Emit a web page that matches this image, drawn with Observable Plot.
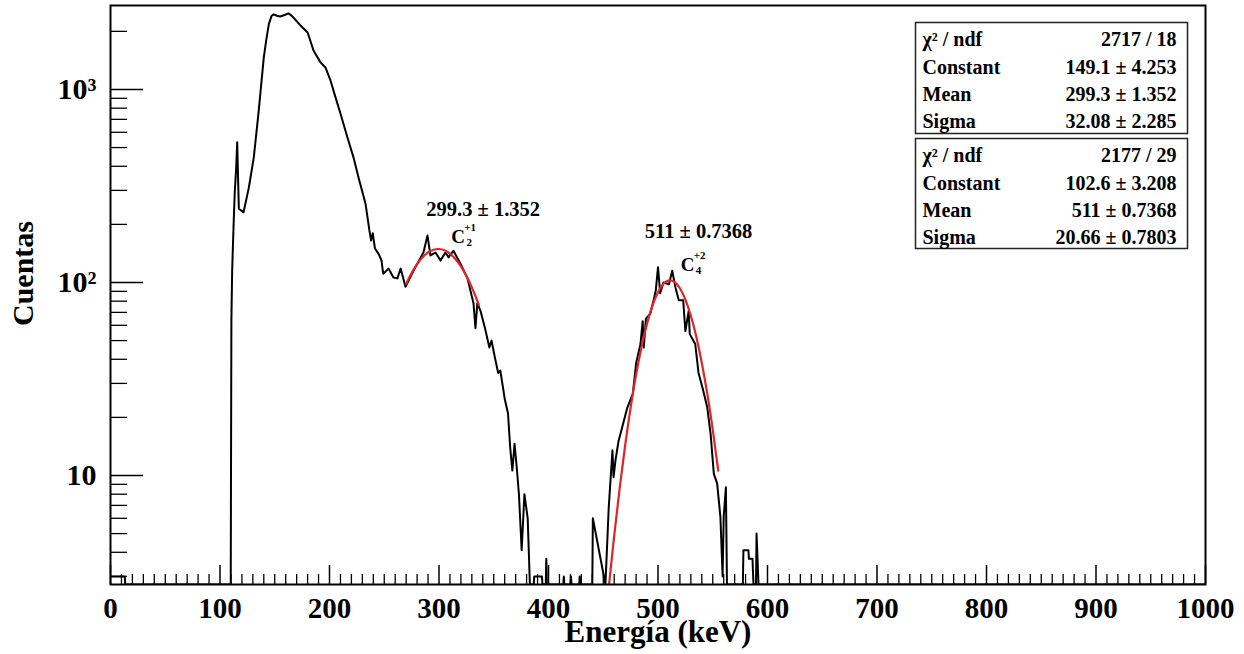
<!DOCTYPE html>
<html><head><meta charset="utf-8">
<script src="https://cdn.jsdelivr.net/npm/d3@7"></script>
<script src="https://cdn.jsdelivr.net/npm/@observablehq/plot@0.6"></script>
<style>body{margin:0;background:#fff;} #chart{width:1244px;height:654px;}</style>
</head><body><div id="chart"></div>
<script>
// ---- histogram ----
const energy = [0, 13, 13.5, 109.8, 110.4, 111.1, 112.6, 113.5, 114.8, 115.7, 117.2, 121.5, 126.3, 127.9, 130.9, 135.4, 140, 142.2, 144.6, 147, 149, 152, 155, 159, 162.6, 165, 167, 173.5, 180, 185.4, 191.8, 196.3, 200.9, 205.5, 210, 216.4, 221.9, 226.5, 232.9, 236.5, 238, 239.5, 241.5, 244.7, 247.5, 249, 254, 258.4, 262, 265, 269.4, 276.7, 285.8, 289.5, 292.2, 296.8, 301.4, 305.9, 308.7, 313.2, 319.6, 326, 331.5, 333.3, 335, 338, 342, 346, 348, 351, 354, 356, 360, 363, 365, 367, 369, 371, 373, 375.5, 378, 381, 383, 386.5, 387, 394, 394.5, 397.5, 398, 398.5, 413.5, 414, 414.5, 420, 420.5, 421, 428, 428.5, 429, 440, 440.5, 452, 455, 458.4, 459.4, 461.2, 463.9, 472, 477, 480, 484, 486, 487, 489, 493, 496, 498, 500, 502, 505, 510, 513, 516, 519, 523, 525, 528, 529, 534, 537, 541, 545, 548, 551, 554, 557, 559, 560, 562, 563, 577.5, 578, 582.6, 583, 586.3, 587.2, 589.5, 590, 591.8, 1000];
const counts = [3, 3, 0, 0, 64, 115, 214, 294, 395, 533, 241, 231, 309, 351, 446, 779, 1466, 1795, 2180, 2400, 2449, 2410, 2390, 2430, 2478, 2420, 2360, 2147, 1973, 1592, 1381, 1300, 1114, 910, 751, 564, 445, 350, 256, 185, 165, 180, 150, 141, 130, 111, 118, 106, 105, 118, 95, 115, 143, 175, 138, 143, 130, 143, 135, 146, 125, 105, 78, 58, 78, 71, 58, 46, 50, 41, 34, 35, 25, 21, 14, 10.6, 14.6, 11, 8, 4.1, 8, 6, 0, 0, 3, 3, 0, 0, 3.7, 0, 0, 3, 0, 0, 3, 0, 0, 3, 0, 0, 6, 0, 6.8, 13.5, 9.8, 12, 15, 22.5, 26.5, 38, 48, 63, 46, 65, 69, 81, 91, 120, 88, 100, 98, 115, 94, 81, 81, 56, 71, 54, 48, 34, 28, 22.5, 16.5, 10.2, 9.1, 6.1, 3, 6.1, 8.7, 0, 0, 4.1, 4.1, 3.7, 3.7, 0, 0, 5.0, 0, 0];

// ---- gaussian fit curves ----
const fit1Energy = [270, 275, 280, 285, 290, 295, 300, 305, 310, 315, 320, 325, 330, 335, 336.5];
const fit1Counts = [98.3, 111.9, 124.4, 135.0, 143.0, 147.8, 149.1, 146.8, 141.0, 132.3, 121.1, 108.2, 94.3, 80.3, 76.1];
const fit2Energy = [453, 455, 460, 465, 470, 475, 480, 485, 490, 495, 500, 505, 510, 515, 520, 525, 530, 535, 540, 545, 550, 555];
const fit2Counts = [2.0, 2.61, 4.87, 8.60, 14.3, 22.5, 33.3, 46.5, 61.2, 76.0, 89.0, 98.4, 102.5, 100.7, 93.3, 81.5, 67.2, 52.3, 38.3, 26.5, 17.3, 10.6];

// ---- stat boxes ----
const statLabels = ["χ² / ndf", "Constant", "Mean", "Sigma"];
const fit1Stats = ["2717 / 18", "149.1 ± 4.253", "299.3 ± 1.352", "32.08 ± 2.285"];
const fit2Stats = ["2177 / 29", "102.6 ± 3.208", "511 ± 0.7368", "20.66 ± 0.7803"];

// ---- peak annotations ----
const peakMeans = [299.3, 511];
const peakConstants = [149.1, 102.6];
const peakLabels = ["299.3 ± 1.352", "511 ± 0.7368"];
const peakSymbol = ["C", "C"];
const peakSubs = ["2", "4"];
const peakSups = ["+1", "+2"];

// ---- axes ----
const xTicks = [0, 100, 200, 300, 400, 500, 600, 700, 800, 900, 1000];
const xTickLabels = ["0", "100", "200", "300", "400", "500", "600", "700", "800", "900", "1000"];
const xMinorTicks = d3.range(0, 1001, 10).filter(v => v % 100 !== 0);
const yTicks = [10, 100, 1000];
const yTickLabels = ["10", "10²", "10³"];
const yMinorTicks = [3, 4, 5, 6, 7, 8, 9, 20, 30, 40, 50, 60, 70, 80, 90, 200, 300, 400, 500, 600, 700, 800, 900, 2000];
const xTitle = "Energía (keV)";
const yTitle = "Cuentas";

const yDomain = [2.724, 2723];
const hist = energy.map((e, i) => ({e, c: counts[i]}));
const fit1 = fit1Energy.map((e, i) => ({e, c: fit1Counts[i]}));
const fit2 = fit2Energy.map((e, i) => ({e, c: fit2Counts[i]}));

const font = "'Liberation Serif', 'Times New Roman', serif";
const txt = {fontWeight: "bold", fill: "#000", lineAnchor: "middle"};

// layout offsets of peak annotations (px)
const peakLayout = [
  {ldx: 45, ldy: -39.5, cdx: 20, cdy: -12},
  {ldx: 28.5, ldy: -48.5, cdx: 17.5, cdy: -15}
];
const peakMarks = [];
peakMeans.forEach((m, i) => {
  const L = peakLayout[i];
  const d = [{x: m, y: peakConstants[i]}];
  peakMarks.push(
    Plot.text(d, {x: "x", y: "y", text: () => peakLabels[i], dx: L.ldx, dy: L.ldy, fontSize: 20.5, ...txt}),
    Plot.text(d, {x: "x", y: "y", text: () => peakSymbol[i], dx: L.cdx, dy: L.cdy, fontSize: 19, ...txt}),
    Plot.text(d, {x: "x", y: "y", text: () => peakSups[i], dx: L.cdx + 12, dy: L.cdy - 10, fontSize: 11, ...txt}),
    Plot.text(d, {x: "x", y: "y", text: () => peakSubs[i], dx: L.cdx + 11, dy: L.cdy + 5, fontSize: 11, ...txt})
  );
});

const chart = Plot.plot({
  width: 1244, height: 654,
  marginLeft: 110, marginRight: 39, marginTop: 5, marginBottom: 70,
  style: {fontFamily: font, background: "#fff", overflow: "visible"},
  x: {domain: [0, 1000], axis: null},
  y: {type: "log", domain: yDomain, axis: null},
  marks: [
    // ticks (inside the frame, ROOT style)
    Plot.ruleX(xMinorTicks, {x: d => d, insetTop: 569, stroke: "#000", strokeWidth: 1.3}),
    Plot.ruleX(xTicks, {x: d => d, insetTop: 560, stroke: "#000", strokeWidth: 1.5}),
    Plot.ruleY(yMinorTicks, {y: d => d, insetRight: 1078, stroke: "#000", strokeWidth: 1.3}),
    Plot.ruleY(yTicks, {y: d => d, insetRight: 1062, stroke: "#000", strokeWidth: 1.5}),
    // histogram
    Plot.line(hist, {x: "e", y: d => Math.max(d.c, yDomain[0]), stroke: "#000", strokeWidth: 2, clip: true}),
    // fits
    Plot.line(fit1, {x: "e", y: "c", stroke: "#e0242a", strokeWidth: 2.2, curve: "natural", clip: true}),
    Plot.line(fit2, {x: "e", y: "c", stroke: "#e0242a", strokeWidth: 2.2, curve: "natural", clip: true}),
    Plot.frame({stroke: "#000", strokeWidth: 2}),
    // tick labels
    Plot.text(xTicks, {x: d => d, text: (d, i) => xTickLabels[i], frameAnchor: "bottom", dy: 24, textAnchor: "middle", fontSize: 29, ariaLabel: "x-tick-label", ...txt}),
    Plot.text(yTicks, {y: d => d, text: (d, i) => yTickLabels[i], frameAnchor: "left", dx: -14, textAnchor: "end", fontSize: 30, ...txt}),
    // axis titles
    Plot.text([xTitle], {text: d => d, frameAnchor: "bottom", dy: 48, textAnchor: "middle", fontSize: 31, ...txt}),
    Plot.text([yTitle], {text: d => d, frameAnchor: "left", dx: -87.5, dy: -21.5, rotate: -90, textAnchor: "middle", fontSize: 30, ...txt}),
    // stat boxes
    Plot.frame({insetLeft: 805, insetRight: 18, insetTop: 17, insetBottom: 451, stroke: "#222", strokeWidth: 1.5}),
    Plot.frame({insetLeft: 805, insetRight: 18, insetTop: 133, insetBottom: 336, stroke: "#222", strokeWidth: 1.5}),
    Plot.text([statLabels.join("\n")], {text: d => d, frameAnchor: "top-left", dx: 812, dy: 73, textAnchor: "start", lineHeight: 1.36, fontSize: 20, ...txt}),
    Plot.text([fit1Stats.join("\n")], {text: d => d, frameAnchor: "top-right", dx: -29, dy: 73, textAnchor: "end", lineHeight: 1.36, fontSize: 20, ...txt}),
    Plot.text([statLabels.join("\n")], {text: d => d, frameAnchor: "top-left", dx: 812, dy: 189, textAnchor: "start", lineHeight: 1.36, fontSize: 20, ...txt}),
    Plot.text([fit2Stats.join("\n")], {text: d => d, frameAnchor: "top-right", dx: -29, dy: 189, textAnchor: "end", lineHeight: 1.36, fontSize: 20, ...txt}),
    ...peakMarks
  ]
});
document.getElementById("chart").append(chart);
// ROOT's axis digits appear vertically stretched: mimic with a vertical scale
chart.querySelectorAll('g[aria-label="x-tick-label"] text').forEach(el => {
  const t = el.getAttribute("transform") || "";
  const x = +el.getAttribute("x") || 0, y = +el.getAttribute("y") || 0;
  el.setAttribute("transform", `${t} translate(${x},${y}) scale(1,1.2) translate(${-x},${-y})`);
});
</script>
</body></html>
